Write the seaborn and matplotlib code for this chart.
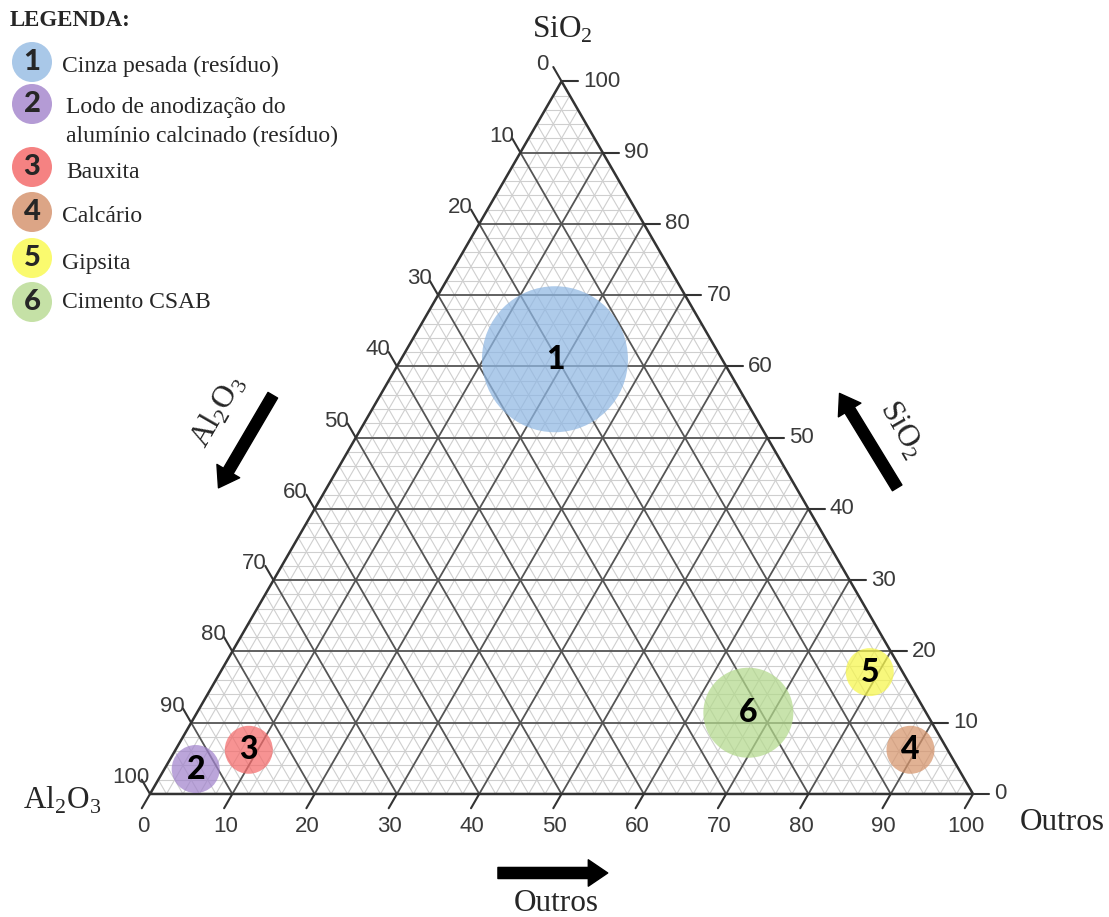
import numpy as np
import pandas as pd
import matplotlib
matplotlib.use("Agg")
import matplotlib.pyplot as plt
import seaborn as sns

# amostras no diagrama ternario (% Outros, % SiO2; Al2O3 = 100 - resto)
amostras = ["1", "2", "3", "4", "5", "6"]
nomes = ["Cinza pesada (resíduo)",
         "Lodo de anodização do\nalumínio calcinado (resíduo)",
         "Bauxita", "Calcário", "Gipsita", "Cimento CSAB"]
outros = [18.7, 3.8, 8.9, 89.3, 78.9, 67.0]
sio2 = [61.0, 3.5, 6.2, 6.2, 17.1, 11.4]
tamanho = [11050, 1194, 1194, 1194, 1194, 4199]
cores = ["#8fb7e3", "#a183cc", "#f46a6a", "#d6946b", "#f6f64a", "#b3d98c"]
cores_leg = ["#a9c8e8", "#b49bd5", "#f58282", "#dca586", "#fafa6e", "#c5e1a6"]
ticks = list(range(0, 101, 10))

sns.set_theme(style="white")
plt.rcParams["font.family"] = ["Liberation Serif", "DejaVu Serif"]


def cart(o, s):
    o = np.asarray(o, dtype=float)
    s = np.asarray(s, dtype=float)
    return o + s / 2, s * np.sqrt(3) / 2


fig = plt.figure(figsize=(11.09, 9.17), dpi=100)
ax = fig.add_axes([0, 0, 1, 1])
ax.set_xlim(-18.23, 116.52)
ax.set_ylim(-14.95, 96.48)
ax.axis("off")

# grade: linhas finas a cada 2 %, linhas escuras a cada 10 %
for k in range(2, 100, 2):
    major = k % 10 == 0
    c = "#555555" if major else "#cfcfcf"
    lw = 1.3 if major else 0.8
    for o, s in [([0, 100 - k], [k, k]),
                 ([k, k], [0, 100 - k]),
                 ([100 - k, 0], [0, 100 - k])]:
        x, y = cart(o, s)
        ax.plot(x, y, color=c, lw=lw, zorder=2 if major else 1)

x, y = cart([0, 100, 0, 0], [0, 0, 100, 0])
ax.plot(x, y, color="#333333", lw=1.8, zorder=3)

# marcas e rotulos dos eixos
t = 2.0
lab = dict(family="Liberation Sans", fontsize=16, color="#3a3a3a")
for k in ticks:
    # base: Outros
    x, y = cart([k, k], [0, -t])
    ax.plot(x, y, color="#333333", lw=1.5)
    ax.text(x[0] - 0.85, -3.9, str(k), ha="center", va="center", **lab)
    # esquerda: Al2O3
    x, y = cart([0, -t], [100 - k, 100 - k + t])
    ax.plot(x, y, color="#333333", lw=1.5)
    ax.text(x[0] - 2.3, y[0] + 2.0, str(k), ha="center", va="center", **lab)
    # direita: SiO2
    x, y = cart([100 - k, 100 - k + t], [k, k])
    ax.plot(x, y, color="#333333", lw=1.5)
    ax.text(x[0] + 2.6, y[0], str(k), ha="left", va="center", **lab)

# amostras
px, py = cart(outros, sio2)
df = pd.DataFrame({"amostra": amostras, "x": px, "y": py})
sns.scatterplot(data=df, x="x", y="y", hue="amostra", size="amostra",
                palette=dict(zip(amostras, cores)),
                sizes=dict(zip(amostras, tamanho)),
                alpha=0.72, edgecolor="none", legend=False, ax=ax, zorder=4)
for a, xi, yi in zip(amostras, px, py):
    ax.text(xi, yi, a, ha="center", va="center", fontsize=23,
            family="Lato", weight="black", color="black", zorder=5)

# titulos dos vertices e eixos
ttl = dict(fontsize=22.5, ha="center", va="center")
fig.text(0.507, 0.967, r"SiO$_\mathregular{2}$", **ttl)
fig.text(0.056, 0.127, r"Al$_\mathregular{2}$O$_\mathregular{3}$", **ttl)
fig.text(0.958, 0.103, "Outros", **ttl)
fig.text(0.502, 0.015, "Outros", **ttl)
fig.text(0.197, 0.551, r"Al$_\mathregular{2}$O$_\mathregular{3}$", rotation=60, **ttl)
fig.text(0.813, 0.531, r"SiO$_\mathregular{2}$", rotation=-60, **ttl)

seta = dict(arrowstyle="simple,head_length=1.4,head_width=1.9,tail_width=0.8",
            color="black", mutation_scale=10, shrinkA=0, shrinkB=0)
for xy, xytext in [((0.197, 0.468), (0.246, 0.569)),
                   ((0.757, 0.571), (0.809, 0.468)),
                   ((0.548, 0.048), (0.449, 0.048))]:
    ax.annotate("", xy=xy, xytext=xytext, xycoords="figure fraction",
                textcoords="figure fraction", arrowprops=seta)

# legenda
fig.text(0.009, 0.978, "LEGENDA:", fontsize=16.5, weight="bold", va="center")
leg_y = [62, 104, 167, 212, 258, 302]
txt_y = [66, 122, 173, 216, 263, 303]
txt_x = [62, 66, 66, 62, 62, 62]
for a, nome, c, cy, ty, tx in zip(amostras, nomes, cores_leg, leg_y, txt_y, txt_x):
    ax.scatter([32 / 1109], [1 - cy / 917], s=830, color=c, edgecolor="none",
               transform=fig.transFigure, clip_on=False)
    ax.text(32 / 1109, 1 - cy / 917, a, transform=fig.transFigure,
            ha="center", va="center", fontsize=21, family="Lato",
            weight="black")
    ax.text(tx / 1109, 1 - ty / 917, nome, transform=fig.transFigure,
            ha="left", va="center", fontsize=17, linespacing=1.45)

fig.savefig("out.png", dpi=100)
